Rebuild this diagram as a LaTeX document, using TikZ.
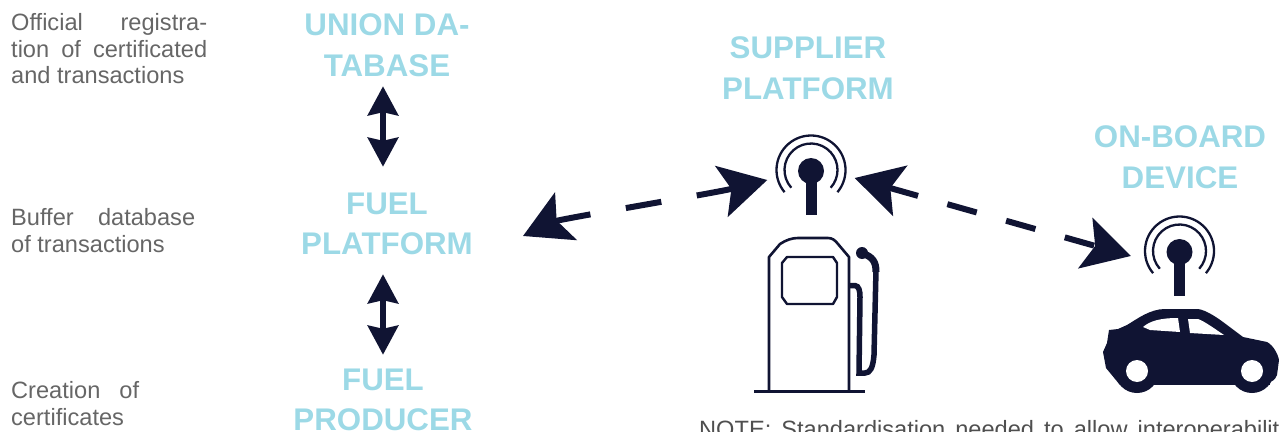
\documentclass[tikz,border=0pt]{standalone}
\usepackage{fontspec}
\setmainfont{Liberation Sans}
\usetikzlibrary{arrows.meta,calc}
\definecolor{ink}{HTML}{101433}
\definecolor{head}{HTML}{9CD9E6}
\definecolor{body}{HTML}{666666}
\definecolor{notetext}{HTML}{4F4F4F}
\tikzset{
 heading/.style={text=head,font=\fontsize{31.3}{40.5}\selectfont\bfseries,align=center,inner sep=0pt,minimum height=84pt},
 sidetext/.style={text=body,font=\fontsize{23.6}{26.7}\selectfont,align=left,inner sep=0pt,anchor=north west},
 vert/.style={draw=ink,line width=6.5pt,{Stealth[length=29pt,width=30pt,inset=3pt]}-{Stealth[length=29pt,width=30pt,inset=3pt]}},
 dashlink/.style={draw=ink,line width=6pt,{Stealth[length=47pt,width=52pt,inset=10pt]}-{Stealth[length=47pt,width=52pt,inset=10pt]}},
 antennaspot/.style={inner sep=0pt,minimum width=87pt,minimum height=80pt},
 pics/antenna/.style={code={
   \fill[ink] (0,0) circle[radius=13];
   \fill[ink] (-5.5,5) rectangle (5.5,44);
   \draw[ink,line width=2.3pt] ($(0,-1)+(140:34.5)$) arc[start angle=140,end angle=400,radius=34.5];
   \draw[ink,line width=2.3pt] ($(0,-1)+(138:26.5)$) arc[start angle=138,end angle=402,radius=26.5];
 }}
}
\begin{document}
\begin{tikzpicture}[x=1pt,y=-1pt]
\useasboundingbox (0,0) rectangle (1279,431);
\clip (0,0) rectangle (1279,431);
% side texts
\node[sidetext] (t1) at (11,13) {\makebox[196pt][s]{Official\hfill registra-}\\\makebox[196pt][s]{tion\hfill of\hfill certificated}\\and transactions};
\node[sidetext] (t2) at (11,208) {\makebox[184pt][s]{Buffer\hfill database}\\of transactions};
\node[sidetext] (t3) at (11,381) {\makebox[128pt][s]{Creation\hfill of}\\certificates};
% headings
\node[heading] (union) at (387,45) {UNION DA-\\TABASE};
\node[heading] (fuelplat) at (387,224) {FUEL\\PLATFORM};
\node[heading] (producer) at (383,400) {FUEL\\PRODUCER};
\node[heading] (supplier) at (808,68) {SUPPLIER\\PLATFORM};
\node[heading] (onboard) at (1180,157) {ON-BOARD\\DEVICE};
% antennas
\node[antennaspot] (supant) at (811,178) {};
\node[antennaspot] (carant) at (1174.5,256) {};
\pic at (811,171) {antenna};
\pic at (1179.5,252) {antenna};
\coordinate (fuelport) at (523,236);
% connectors
\draw[vert,shorten >=15pt,shorten <=-1pt] ([xshift=-4pt]union.south) -- ([xshift=-4pt]fuelplat.north);
\draw[vert,shorten <=8pt,shorten >=3pt] ([xshift=-4pt]fuelplat.south) -- (producer.north);
\draw[dashlink,dash pattern=on 36pt off 36pt] (fuelport) .. controls (560,219) and (715,193) .. ([yshift=-2pt]supant.west);
\draw[dashlink,dash pattern=on 30.5pt off 30.5pt] (supant.east) -- (carant.west);
% fuel pump
\draw[ink,line width=2.6pt,line join=round] (769,390) -- (769,257) -- (780,244) .. controls (786,240) and (792,238) .. (798,238) -- (828,238) .. controls (832,238) and (835,240) .. (838,244) -- (849,257) -- (849,390);
\draw[ink,line width=3pt] (754,391) -- (865,391);
\draw[ink,line width=2.4pt,line join=round] (787,257) -- (833,257) -- (837,263) -- (837,297) -- (833,304) -- (787,304) -- (782,297) -- (782,263) -- cycle;
\draw[ink,line width=5.5pt] (850,285.5) -- (855,285.5) .. controls (859,286) and (860,291) .. (860,297) -- (859,373) -- (865,373) .. controls (870,373) and (873,368) .. (874,355) -- (876,270);
\draw[ink,line width=7pt] (876,272) .. controls (876,262) and (873,257) .. (862,253);
\fill[ink] (862,253) circle[radius=6];
% car
\fill[ink] (1109,330) -- (1118,329) -- (1127,325) .. controls (1137,319) and (1150,309) .. (1165,309) -- (1198,309) .. controls (1206,310) and (1218,318) .. (1227,325) -- (1243,337) -- (1267,342) .. controls (1273,345) and (1278,354) .. (1279,360) -- (1277,375) .. controls (1275,380) and (1272,382) .. (1268,382) -- (1120,385) -- (1106,368) -- (1103,352) -- (1107,343) -- cycle;
\fill[ink] (1137,371) circle[radius=22];
\fill[ink] (1252,371) circle[radius=22];
\fill[ink] (1120,380) rectangle (1270,385);
\fill[white] (1137,371) circle[radius=11];
\fill[white] (1252,371) circle[radius=11];
\fill[white] (1143,327) .. controls (1150,321) and (1160,318) .. (1178,318) -- (1180,332) -- (1150,330) -- cycle;
\fill[white] (1188,319) -- (1198,319) .. controls (1204,321) and (1215,329) .. (1224,335) -- (1190,333) -- cycle;
% note
\node[sidetext,text=notetext,anchor=base west] (note) at (699,437) {\makebox[592pt][s]{NOTE:\hfill Standardisation\hfill needed\hfill to\hfill allow\hfill interoperability}};
\end{tikzpicture}
\end{document}
